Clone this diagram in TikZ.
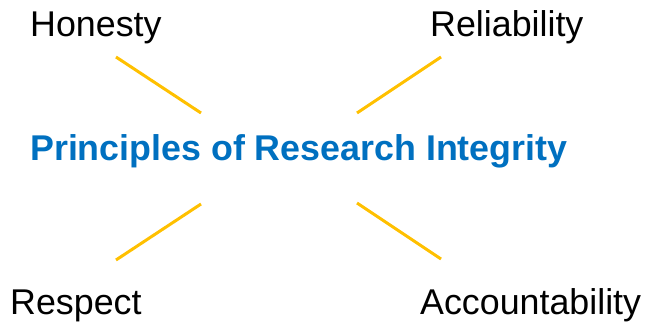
\documentclass[tikz,border=0pt]{standalone}
\usepackage{fontspec}
\setmainfont{Liberation Sans}
\definecolor{piblue}{HTML}{0070C0}
\definecolor{piyellow}{HTML}{FFC000}
\tikzset{
    word/.style={anchor=base west, inner sep=0pt, font=\fontsize{35.8}{40}\selectfont},
    title/.style={word, text=piblue, font=\fontsize{35.8}{40}\selectfont\bfseries},
    spoke/.style={piyellow, line width=3pt}
}
\begin{document}
\begin{tikzpicture}[x=1pt, y=1pt]
        \useasboundingbox (0,0) rectangle (646,324);
        \node[title] (pri) at (30,163) {Principles of Research Integrity};
        \node[word] (hon) at (30,287) {Honesty};
        \node[word] (rel) at (430,287) {Reliability};
        \node[word] (res) at (10,9) {Respect};
        \node[word] (acc) at (420,9) {Accountability};

        \coordinate (hon-in) at (201,211);
        \coordinate (hon-out) at (116,267);
        \coordinate (rel-in) at (357,211);
        \coordinate (rel-out) at (441,267);
        \coordinate (res-in) at (201,120);
        \coordinate (res-out) at (116,64);
        \coordinate (acc-in) at (357,121);
        \coordinate (acc-out) at (441,65);

        \draw[spoke] (hon-in) -- (hon-out);
        \draw[spoke] (rel-in) -- (rel-out);
        \draw[spoke] (res-in) -- (res-out);
        \draw[spoke] (acc-in) -- (acc-out);
    \end{tikzpicture}
\end{document}
